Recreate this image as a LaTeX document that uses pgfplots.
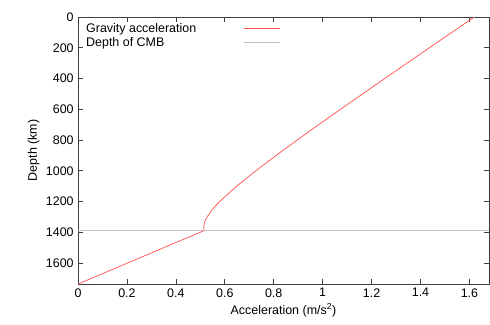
\documentclass[border=0pt]{standalone}
\usepackage{fontspec}
\setmainfont{Liberation Sans}
\usepackage{pgfplots}
\pgfplotsset{compat=1.18}
\begin{document}
\fontsize{12.5}{14}\selectfont
\begin{tikzpicture}
\begin{axis}[
  scale only axis,
  width=411bp, height=267bp,
  xmin=0, xmax=1.68,
  ymin=0, ymax=1737,
  y dir=reverse,
  xtick={0,0.2,...,1.6},
  ytick={0,200,...,1600},
  xticklabels={0,0.2,0.4,0.6,0.8,1,1.2,1.4,1.6},
  tick align=inside,
  major tick length=5bp,
  minor tick num=0,
  /pgf/number format/assume math mode=true,
  /pgf/number format/1000 sep={},
  tick label style={font=\fontsize{12.5}{14}\selectfont},
  label style={font=\fontsize{12.5}{14}\selectfont},
  xlabel={Acceleration (m/s\textsuperscript{2})},
  ylabel={Depth (km)},
  xlabel style={yshift=2bp},
  ylabel style={yshift=-2bp},
  axis line style={line width=0.8bp, black!75},
  tick style={line width=0.7bp, black!75},
  legend plot pos=right,
  legend style={draw=none, fill=none, at={(0.0,1.0)}, anchor=north west,
    font=\fontsize{12.5}{14}\selectfont, row sep=-1bp, inner xsep=6bp, inner ysep=4bp},
  legend cell align=left,
  legend image code/.code={\draw[mark repeat=2,mark phase=2] plot coordinates {(0bp,0bp) (18bp,0bp) (36bp,0bp)};},
]
\addplot[red!70, line width=0.7bp] coordinates {
(1.6200,0) (1.5282,100) (1.4365,200) (1.3451,300) (1.2541,400)
(1.1634,500) (1.0734,600) (0.9842,700) (0.8963,800) (0.8102,900)
(0.7271,1000) (0.6488,1100) (0.5794,1200) (0.5505,1250) (0.5279,1300)
(0.5187,1330) (0.5151,1350) (0.5140,1370) (0.5160,1390)
(0.4,1467) (0.3,1535) (0.2,1602) (0.1,1670) (0,1737)
};
\addlegendentry{\makebox[155bp][l]{Gravity acceleration}}
\addplot[black!25, line width=1.5bp] coordinates {(0,1390) (1.68,1390)};
\addlegendentry{\makebox[155bp][l]{Depth of CMB}}
\end{axis}
\pgfresetboundingbox
\path (current axis.south west) +(-78bp,-41bp) (current axis.north east) +(1bp,17bp);
\end{tikzpicture}
\end{document}
